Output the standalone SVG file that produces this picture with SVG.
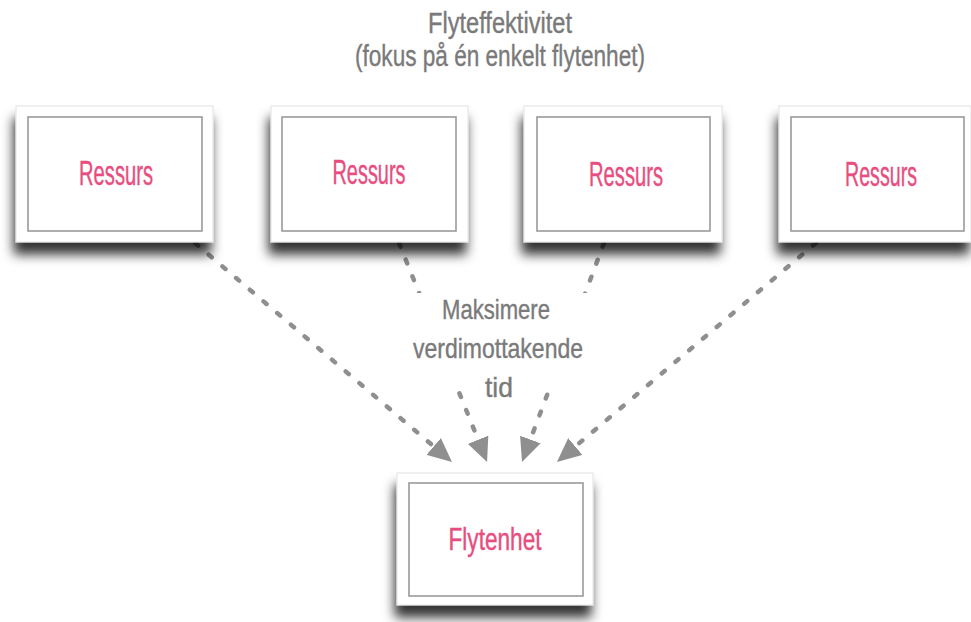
<svg xmlns="http://www.w3.org/2000/svg" width="971" height="622" viewBox="0 0 971 622">
  <defs>
    <filter id="lift" x="-20%" y="-20%" width="140%" height="150%">
      <feDropShadow dx="-2" dy="12" stdDeviation="6" flood-color="#000" flood-opacity="0.8"/>
    </filter>
    <marker id="head" markerUnits="userSpaceOnUse" markerWidth="26" markerHeight="22" refX="0" refY="11" orient="auto">
      <path d="M0,0 L24,11 L0,22 Z" fill="#8f8f8f"/>
    </marker>
    <style>
      .card { fill: #ffffff; stroke: #e2e2e2; stroke-width: 1; filter: url(#lift); }
      .frame { fill: none; stroke: #9a9a9a; stroke-width: 1.6; }
      .pink { font-family: "Liberation Sans Narrow", "Liberation Sans", sans-serif; fill: #e84d80; stroke: #e84d80; stroke-width: 0.4; text-anchor: middle; }
      .grey { font-family: "Liberation Sans Narrow", "Liberation Sans", sans-serif; fill: #7a7a7a; stroke: #7a7a7a; stroke-width: 0.4; text-anchor: middle; }
      .flow { fill: none; stroke: #8f8f8f; stroke-width: 4.5; stroke-linecap: round; stroke-dasharray: 4 14; marker-end: url(#head); }
    </style>
  </defs>

  <rect width="971" height="622" fill="#ffffff"/>

  <!-- heading -->
  <g id="title">
    <text class="grey" x="500" y="33" font-size="30" textLength="144" lengthAdjust="spacingAndGlyphs">Flyteffektivitet</text>
    <text class="grey" x="500" y="66" font-size="30" textLength="290" lengthAdjust="spacingAndGlyphs">(fokus på én enkelt flytenhet)</text>
  </g>

  <!-- dotted arrows from each resource to the flow unit -->
  <g id="connectors">
    <path class="flow" d="M195,243 L433.7,446.4"/>
    <path class="flow" d="M399,243 L478.1,439.7"/>
    <path class="flow" d="M604,243 L530.4,439.5"/>
    <path class="flow" d="M816,243 L575.3,446.5"/>
    <rect x="406" y="293" width="192" height="95" fill="#ffffff"/>
    <text class="grey" x="496" y="319" font-size="28" textLength="108" lengthAdjust="spacingAndGlyphs">Maksimere</text>
    <text class="grey" x="498" y="358" font-size="28" textLength="170" lengthAdjust="spacingAndGlyphs">verdimottakende</text>
    <text class="grey" x="499" y="397" font-size="28" textLength="28" lengthAdjust="spacingAndGlyphs">tid</text>
  </g>

  <g id="ressurs-1">
    <rect class="card" x="16" y="106" width="197" height="136"/>
    <rect class="frame" x="28" y="117" width="174" height="114"/>
    <text class="pink" x="116" y="185" font-size="35" textLength="74" lengthAdjust="spacingAndGlyphs">Ressurs</text>
  </g>

  <g id="ressurs-2">
    <rect class="card" x="271" y="106" width="197" height="136"/>
    <rect class="frame" x="282" y="117" width="174" height="114"/>
    <text class="pink" x="369" y="184" font-size="35" textLength="73" lengthAdjust="spacingAndGlyphs">Ressurs</text>
  </g>

  <g id="ressurs-3">
    <rect class="card" x="524" y="106" width="198" height="136"/>
    <rect class="frame" x="537" y="117" width="173" height="114"/>
    <text class="pink" x="626" y="186" font-size="35" textLength="74" lengthAdjust="spacingAndGlyphs">Ressurs</text>
  </g>

  <g id="ressurs-4">
    <rect class="card" x="779" y="106" width="192" height="136"/>
    <rect class="frame" x="791" y="117" width="173" height="114"/>
    <text class="pink" x="881" y="186" font-size="35" textLength="72" lengthAdjust="spacingAndGlyphs">Ressurs</text>
  </g>

  <g id="flytenhet">
    <rect class="card" x="397" y="473" width="196" height="132"/>
    <rect class="frame" x="409" y="483" width="174" height="113"/>
    <text class="pink" x="495" y="550" font-size="31" textLength="93" lengthAdjust="spacingAndGlyphs">Flytenhet</text>
  </g>
</svg>
